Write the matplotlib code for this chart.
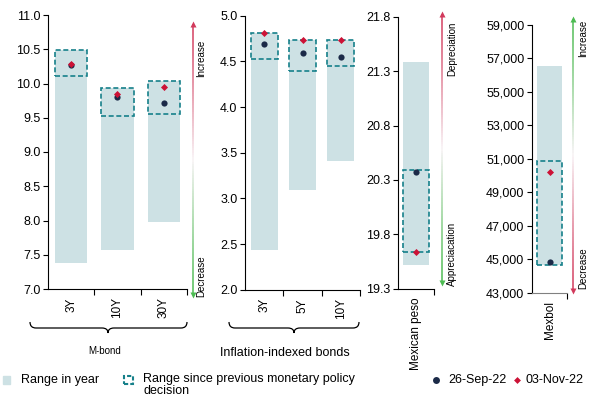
import numpy as np
import matplotlib
matplotlib.use("Agg")
import matplotlib.pyplot as plt
from matplotlib.collections import LineCollection
from matplotlib.lines import Line2D
from matplotlib.patches import Rectangle, PathPatch
from matplotlib.path import Path

plt.rcParams["font.family"] = ["Liberation Sans", "DejaVu Sans"]

# M-bond yields (%)
mbond_cats = ["3Y", "10Y", "30Y"]
mbond_year_lo = [7.38, 7.57, 7.98]
mbond_year_hi = [10.49, 9.94, 10.04]
mbond_pol_lo = [10.11, 9.52, 9.56]
mbond_pol_hi = [10.49, 9.94, 10.04]
mbond_sep26 = [10.27, 9.81, 9.72]
mbond_nov03 = [10.28, 9.85, 9.95]

# inflation-indexed bonds (%)
udi_cats = ["3Y", "5Y", "10Y"]
udi_year_lo = [2.43, 3.09, 3.41]
udi_year_hi = [4.81, 4.73, 4.73]
udi_pol_lo = [4.53, 4.39, 4.45]
udi_pol_hi = [4.81, 4.73, 4.73]
udi_sep26 = [4.69, 4.59, 4.55]
udi_nov03 = [4.81, 4.73, 4.73]

# USD/MXN
mxn_cats = ["Mexican peso"]
mxn_year_lo = [19.52]
mxn_year_hi = [21.38]
mxn_pol_lo = [19.64]
mxn_pol_hi = [20.39]
mxn_sep26 = [20.37]
mxn_nov03 = [19.64]

# Mexbol index
mexbol_cats = ["Mexbol"]
mexbol_year_lo = [44650]
mexbol_year_hi = [56570]
mexbol_pol_lo = [44650]
mexbol_pol_hi = [50870]
mexbol_sep26 = [44830]
mexbol_nov03 = [50210]

W, H = 601, 398
LIGHT = "#cde1e4"
TEAL = "#16808a"
NAVY = "#1b2a48"
RED = "#cc1236"
ARED = "#d23a5c"
AGREEN = "#4dbb52"

fig = plt.figure(figsize=(W / 100, H / 100), dpi=100)


def fx(x):
    return x / W


def fy(y):
    return 1 - y / H


def panel(box, cats, ylo, yhi, plo, phi, d1, d2, ylim, ticks, fmt, bottom_col="black"):
    l, r, t, b = box
    ax = fig.add_axes([fx(l), fy(b), (r - l) / W, (b - t) / H])
    x = np.arange(len(cats))
    ax.bar(x, np.subtract(yhi, ylo), bottom=ylo, width=0.7, color=LIGHT, zorder=1)
    ax.bar(x, np.subtract(phi, plo), bottom=plo, width=0.7, fill=False,
           edgecolor=TEAL, linestyle=(0, (3, 1.6)), linewidth=1.2, zorder=2)
    ax.scatter(x, d1, s=20, color=NAVY, zorder=3, linewidths=0)
    ax.scatter(x, d2, marker="D", s=13, color=RED, zorder=4, linewidths=0)
    ax.set_xlim(-0.5, len(cats) - 0.5)
    ax.set_ylim(*ylim)
    ax.set_yticks(ticks)
    ax.set_yticklabels([fmt(v) for v in ticks], fontsize=9)
    ax.set_xticks(x)
    ax.set_xticklabels(cats, rotation=90, fontsize=8.5, va="top")
    ax.set_xticks(np.arange(len(cats)) + 0.5, minor=True)
    ax.tick_params(axis="x", which="major", length=0, pad=6)
    ax.tick_params(axis="x", which="minor", length=4, width=0.8, direction="out")
    ax.tick_params(axis="y", length=3.5, width=0.8, pad=2)
    for s in ("top", "right"):
        ax.spines[s].set_visible(False)
    ax.spines["left"].set_linewidth(0.8)
    ax.spines["bottom"].set_linewidth(0.8)
    ax.spines["bottom"].set_color(bottom_col)
    ax.set_facecolor("none")
    return ax


panel((48, 187, 15, 289), mbond_cats, mbond_year_lo, mbond_year_hi, mbond_pol_lo,
      mbond_pol_hi, mbond_sep26, mbond_nov03, (7, 11), np.arange(7, 11.01, 0.5),
      lambda v: f"{v:.1f}")
panel((245, 360, 15.7, 289.7), udi_cats, udi_year_lo, udi_year_hi, udi_pol_lo,
      udi_pol_hi, udi_sep26, udi_nov03, (2, 5), np.arange(2, 5.01, 0.5),
      lambda v: f"{v:.1f}")
panel((398, 434, 16.7, 288.7), mxn_cats, mxn_year_lo, mxn_year_hi, mxn_pol_lo,
      mxn_pol_hi, mxn_sep26, mxn_nov03, (19.3, 21.8), np.arange(19.3, 21.81, 0.5),
      lambda v: f"{v:.1f}")
panel((532, 567, 25, 292.7), mexbol_cats, mexbol_year_lo, mexbol_year_hi, mexbol_pol_lo,
      mexbol_pol_hi, mexbol_sep26, mexbol_nov03, (43000, 59000),
      np.arange(43000, 59001, 2000), lambda v: f"{v:,.0f}", bottom_col="#808080")


def grad_arrow(x, y_top, y_bot, c_top, c_bot):
    n = 120
    ys = np.linspace(y_top, y_bot, n + 1)
    ct = np.array(matplotlib.colors.to_rgb(c_top))
    cb = np.array(matplotlib.colors.to_rgb(c_bot))
    white = np.array([0.97, 0.95, 0.96])
    segs, cols = [], []
    for i in range(n):
        t = (i + 0.5) / n
        if t < 0.5:
            c = ct + (white - ct) * (t / 0.5) ** 1.3
        else:
            c = cb + (white - cb) * ((1 - t) / 0.5) ** 1.3
        segs.append([(fx(x), fy(ys[i])), (fx(x), fy(ys[i + 1]))])
        cols.append(c)
    fig.add_artist(LineCollection(segs, colors=cols, linewidths=1.1,
                                  transform=fig.transFigure))
    fig.add_artist(Line2D([fx(x)], [fy(y_top)], marker="^", ms=4.5, color=c_top,
                          mec="none", transform=fig.transFigure))
    fig.add_artist(Line2D([fx(x)], [fy(y_bot)], marker="v", ms=4.5, color=c_bot,
                          mec="none", transform=fig.transFigure))


def side_text(x, y, s, top=True):
    fig.text(fx(x), fy(y), s, rotation=90, fontsize=7, ha="center",
             va="top" if top else "bottom")


grad_arrow(193, 24, 295, ARED, AGREEN)
side_text(201, 40, "Increase")
side_text(201, 297, "Decrease", top=False)

grad_arrow(442, 14, 283, ARED, AGREEN)
side_text(452, 22, "Depreciation")
side_text(452, 286, "Appreciacation", top=False)

grad_arrow(573, 19, 291, AGREEN, ARED)
side_text(583, 20, "Increase")
side_text(583, 289, "Decrease", top=False)


def brace(x0, x1, xc, y0=322, y1=328, y2=333):
    verts = [(x0, y0), (x0, y1), (x0 + 6, y1), (xc - 6, y1), (xc, y1), (xc, y2),
             (xc, y1), (xc + 6, y1), (x1 - 6, y1), (x1, y1), (x1, y0)]
    codes = [Path.MOVETO, Path.CURVE3, Path.CURVE3, Path.LINETO, Path.CURVE3, Path.CURVE3,
             Path.CURVE3, Path.CURVE3, Path.LINETO, Path.CURVE3, Path.CURVE3]
    verts = [(fx(a), fy(b)) for a, b in verts]
    fig.add_artist(PathPatch(Path(verts, codes), fill=False, lw=0.9, ec="black",
                             transform=fig.transFigure))


brace(30, 187, 108)
brace(229, 359, 294)
fig.text(fx(105), fy(351), "M-bond", fontsize=7, ha="center", va="center")
fig.text(fx(285), fy(353), "Inflation-indexed bonds", fontsize=9, ha="center", va="center")

# legend, laid out by hand
ly = 380
fig.add_artist(Rectangle((fx(3), fy(ly + 4)), 7 / W, 8 / H, color=LIGHT,
                         transform=fig.transFigure))
fig.text(fx(21), fy(ly), "Range in year", fontsize=9, va="center")
fig.add_artist(Rectangle((fx(124), fy(ly + 4)), 9 / W, 8 / H, fill=False, ec=TEAL,
                         lw=1.5, ls=(0, (2, 1)), transform=fig.transFigure))
fig.text(fx(143), fy(ly - 7), "Range since previous monetary policy\ndecision",
         fontsize=9, va="top", linespacing=0.95)
fig.add_artist(Line2D([fx(436)], [fy(ly)], marker="o", ms=5, color=NAVY, mec="none",
                      transform=fig.transFigure))
fig.text(fx(448), fy(ly), "26-Sep-22", fontsize=9, va="center")
fig.add_artist(Line2D([fx(517)], [fy(ly)], marker="D", ms=3.5, color=RED, mec="none",
                      transform=fig.transFigure))
fig.text(fx(526), fy(ly), "03-Nov-22", fontsize=9, va="center")

fig.savefig("out.png", dpi=100)
